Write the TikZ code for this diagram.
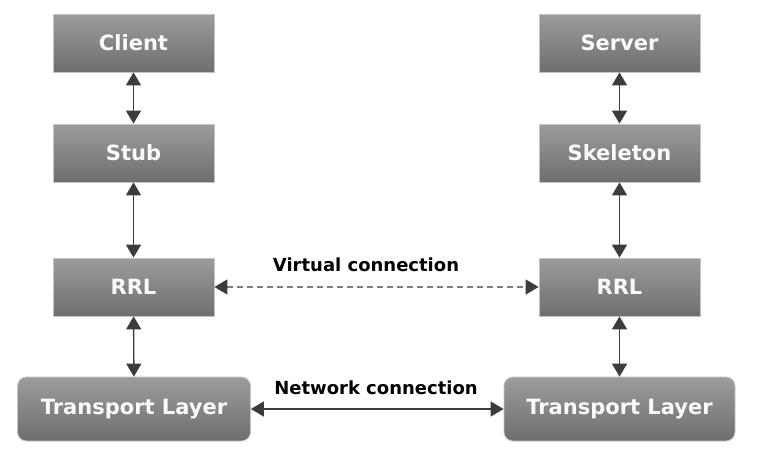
\documentclass[tikz,border=0pt]{standalone}
\usepackage{fontspec}
\setmainfont{DejaVu Sans}
\usetikzlibrary{arrows.meta}
\definecolor{boxtop}{HTML}{9C9C9C}
\definecolor{boxbot}{HTML}{6E6E6E}
\definecolor{boxline}{HTML}{C4C4C4}
\definecolor{arrowcol}{HTML}{3C3C3C}
\definecolor{dashcol}{HTML}{7E7E7E}
\tikzset{
  layerbox/.style={rectangle, draw=boxline, line width=0.8pt, top color=boxtop, bottom color=boxbot,
    minimum width=161pt, minimum height=58pt, inner sep=0pt, text=white!96!gray,
    font=\fontsize{21}{24}\selectfont\bfseries},
  transbox/.style={layerbox, rounded corners=9pt, minimum width=233pt, minimum height=64pt},
  link/.style={arrowcol, line width=1.4pt, {Triangle[length=13pt,width=15pt]}-{Triangle[length=13pt,width=15pt]}},
  vlink/.style={dashcol, line width=1.5pt, dash pattern=on 6pt off 4pt,
    {Triangle[length=13pt,width=15pt,color=arrowcol]}-{Triangle[length=13pt,width=15pt,color=arrowcol]}},
  linklabel/.style={anchor=base, text=black, font=\fontsize{18}{21}\selectfont\bfseries, inner sep=0pt}
}
\begin{document}
\begin{tikzpicture}[x=1pt,y=-1pt]
\useasboundingbox (0,0) rectangle (765,455);
\node[layerbox] (client) at (133.5,43) {Client};
\node[layerbox] (stub) at (133.5,153) {Stub};
\node[layerbox] (rrlL) at (133.5,287) {RRL};
\node[transbox] (transL) at (134,409) {Transport Layer};
\node[layerbox] (server) at (619.5,43) {Server};
\node[layerbox] (skel) at (619.5,153) {Skeleton};
\node[layerbox] (rrlR) at (619.5,287) {RRL};
\node[transbox, minimum width=231pt] (transR) at (619.5,409) {Transport Layer};
\draw[link] (client) -- (stub);
\draw[link] (stub) -- (rrlL);
\draw[link] (rrlL) -- (transL);
\draw[link] (server) -- (skel);
\draw[link] (skel) -- (rrlR);
\draw[link] (rrlR) -- (transR);
\draw[vlink] (rrlL.east) -- (rrlR.west);
\draw[link] (transL.east) -- (transR.west);
\node[linklabel] (vlab) at (366,271) {Virtual connection};
\node[linklabel] (nlab) at (376,394) {Network connection};
\end{tikzpicture}
\end{document}
